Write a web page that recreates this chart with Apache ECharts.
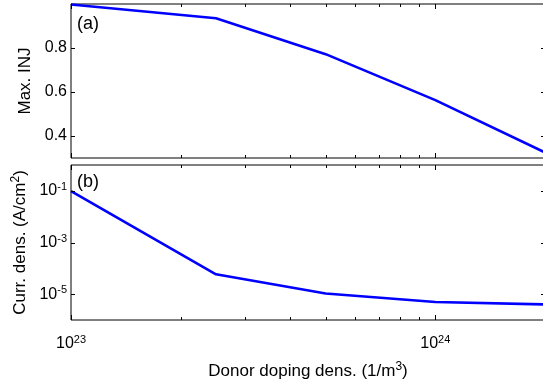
<!DOCTYPE html>
<html>
<head>
<meta charset="utf-8">
<script src="https://cdn.jsdelivr.net/npm/echarts@6/dist/echarts.min.js"></script>
<style>
  html, body { margin: 0; padding: 0; background: #fff; }
  #main { width: 543px; height: 381px; }
</style>
</head>
<body>
<div id="main"></div>
<script>
// donor doping density (1/m^3)
var dopDens = [1e23, 2.5e23, 5e23, 1e24, 2e24];
// panel (a) max. INJ
var maxInj = [0.998, 0.935, 0.772, 0.563, 0.325];
// panel (b) current density (A/cm^2)
var currDens = [0.098, 5.9e-5, 1.06e-5, 5.0e-6, 4.0e-6];

var xMajorTicks = [1e23, 1e24];
var xMinorTicks = [2e23, 3e23, 4e23, 5e23, 6e23, 7e23, 8e23, 9e23, 2e24];
var injTicks = [0.4, 0.6, 0.8];
var currTicks = [1e-5, 1e-3, 1e-1];

var FONT = 'Liberation Sans';
var chart = echarts.init(document.getElementById('main'));

var supRich = {
  b: { fontSize: 16, fontFamily: FONT, color: '#000' },
  s: { fontSize: 11, fontFamily: FONT, color: '#000', verticalAlign: 'top', padding: [0, 0, 8, 0] }
};
var nameRich = {
  s: { fontSize: 12, fontFamily: FONT, color: '#000', verticalAlign: 'top', padding: [0, 0, 8, 0] }
};

function pairs(xs, ys) {
  var out = [];
  for (var i = 0; i < xs.length; i++) out.push([xs[i], ys[i]]);
  return out;
}

function near(v, list) {
  for (var i = 0; i < list.length; i++) {
    if (Math.abs(Math.log10(v) - Math.log10(list[i])) < 1e-6) return true;
  }
  return false;
}

var option = {
  animation: false,
  grid: [
    { left: 71, top: 4, width: 474, height: 154, outerBoundsMode: 'none', containLabel: false,
      show: true, borderColor: '#000', borderWidth: 1, backgroundColor: 'transparent' },
    { left: 71, top: 165, width: 474, height: 155, outerBoundsMode: 'none', containLabel: false,
      show: true, borderColor: '#000', borderWidth: 1, backgroundColor: 'transparent' }
  ],
  xAxis: [
    {
      type: 'log', gridIndex: 0, logBase: 10, min: 1e23, max: 2e24,
      axisLine: { show: false }, axisTick: { show: false }, axisLabel: { show: false }, splitLine: { show: false }
    },
    {
      type: 'log', gridIndex: 1, logBase: 10, min: 1e23, max: 2e24,
      axisLine: { show: false }, axisTick: { show: false }, splitLine: { show: false },
      name: 'Donor doping dens. (1/m{s|3})',
      nameLocation: 'middle', nameGap: 41,
      nameTextStyle: { fontSize: 17, fontFamily: FONT, color: '#000', rich: nameRich },
      axisLabel: {
        margin: 14,
        formatter: function (v) {
          if (!near(v, xMajorTicks)) return '';
          return '{b|10}{s|' + Math.round(Math.log10(v)) + '}';
        },
        rich: supRich
      }
    }
  ],
  yAxis: [
    {
      type: 'value', gridIndex: 0, min: 0.3, max: 1.0, interval: 0.1,
      axisLine: { show: false }, axisTick: { show: false }, splitLine: { show: false },
      name: 'Max. INJ', nameLocation: 'middle', nameGap: 33,
      nameTextStyle: { fontSize: 17, fontFamily: FONT, color: '#000' },
      axisLabel: {
        margin: 4, fontSize: 16, fontFamily: FONT, color: '#000',
        formatter: function (v) {
          for (var i = 0; i < injTicks.length; i++) {
            if (Math.abs(v - injTicks[i]) < 1e-6) return v.toFixed(1);
          }
          return '';
        }
      }
    },
    {
      type: 'log', gridIndex: 1, logBase: 10, min: 1e-6, max: 1,
      axisLine: { show: false }, axisTick: { show: false }, splitLine: { show: false },
      name: 'Curr. dens. (A/cm{s|2})', nameLocation: 'middle', nameGap: 40,
      nameTextStyle: { fontSize: 17, fontFamily: FONT, color: '#000', rich: nameRich },
      axisLabel: {
        margin: 4,
        formatter: function (v) {
          if (!near(v, currTicks)) return '';
          return '{b|10}{s|' + Math.round(Math.log10(v)) + '}';
        },
        rich: supRich
      }
    }
  ],
  series: [
    {
      type: 'line', xAxisIndex: 0, yAxisIndex: 0, data: pairs(dopDens, maxInj),
      showSymbol: false, lineStyle: { color: '#0000ff', width: 2.6 }, clip: false
    },
    {
      type: 'line', xAxisIndex: 1, yAxisIndex: 1, data: pairs(dopDens, currDens),
      showSymbol: false, lineStyle: { color: '#0000ff', width: 2.6 }, clip: false
    }
  ]
};
chart.setOption(option);

// inward ticks on all four sides, MATLAB style
function tickGraphics() {
  var g = [];
  function seg(x1, y1, x2, y2) {
    g.push({ type: 'line', silent: true, z: 10,
      shape: { x1: x1, y1: y1, x2: x2, y2: y2 },
      style: { stroke: '#000', lineWidth: 1 } });
  }
  var yTickSets = [injTicks, currTicks];
  for (var gi = 0; gi < 2; gi++) {
    var rect = chart.getModel().getComponent('grid', gi).coordinateSystem.getRect();
    var top = rect.y, bot = rect.y + rect.height, left = rect.x, right = rect.x + rect.width;
    xMajorTicks.forEach(function (v) {
      var x = Math.round(chart.convertToPixel({ xAxisIndex: gi }, v)) + 0.5;
      seg(x, top, x, top + 5); seg(x, bot, x, bot - 5);
    });
    xMinorTicks.forEach(function (v) {
      var x = Math.round(chart.convertToPixel({ xAxisIndex: gi }, v)) + 0.5;
      seg(x, top, x, top + 3); seg(x, bot, x, bot - 3);
    });
    yTickSets[gi].forEach(function (v) {
      var y = Math.round(chart.convertToPixel({ yAxisIndex: gi }, v)) + 0.5;
      seg(left, y, left + 4, y); seg(right, y, right - 4, y);
    });
  }
  g.push({ type: 'text', left: 77, top: 15, silent: true, z: 10,
    style: { text: '(a)', fontSize: 18, fontFamily: FONT, fill: '#000' } });
  g.push({ type: 'text', left: 77, top: 173, silent: true, z: 10,
    style: { text: '(b)', fontSize: 18, fontFamily: FONT, fill: '#000' } });
  return g;
}
chart.setOption({ graphic: tickGraphics() });
</script>
</body>
</html>
